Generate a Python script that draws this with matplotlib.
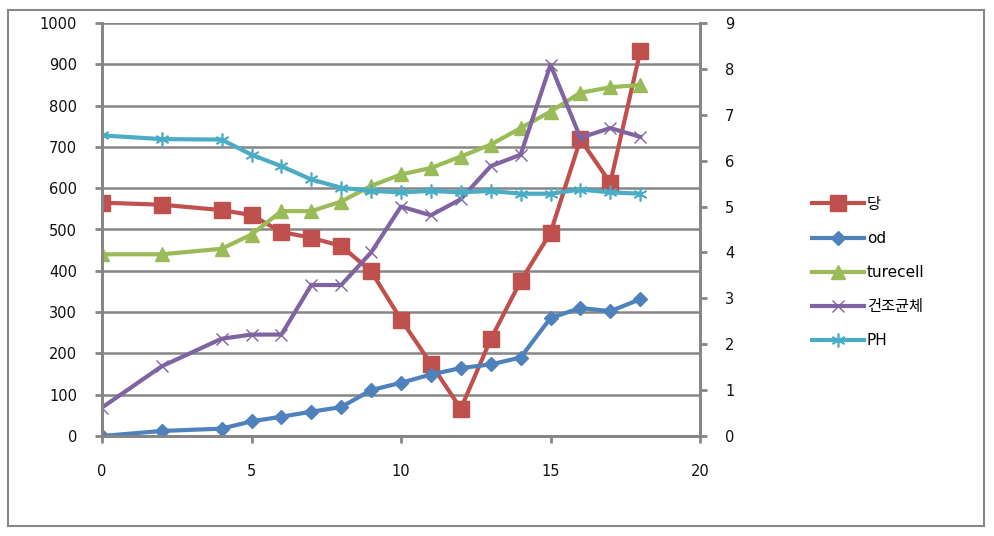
import matplotlib
matplotlib.use('Agg')
import matplotlib.pyplot as plt
from matplotlib.patches import Rectangle

plt.rcParams['font.family'] = ['DejaVu Sans', 'Noto Sans CJK KR']

# time points
x = [0, 2, 4, 5, 6, 7, 8, 9, 10, 11, 12, 13, 14, 15, 16, 17, 18]

# left axis series
sugar = [565, 560, 547, 535, 494, 480, 460, 399, 282, 175, 66, 234, 375, 492, 718, 613, 931]

# right axis series
od = [0, 0.11, 0.16, 0.32, 0.42, 0.53, 0.63, 1.0, 1.16, 1.34, 1.48, 1.56, 1.71, 2.57, 2.79, 2.72, 2.98]
turecell = [3.96, 3.96, 4.08, 4.39, 4.9, 4.9, 5.11, 5.45, 5.7, 5.84, 6.09, 6.35, 6.71, 7.07, 7.48, 7.6, 7.65]
dry_cell = [0.62, 1.52, 2.12, 2.21, 2.21, 3.29, 3.29, 4.0, 5.0, 4.81, 5.16, 5.88, 6.13, 8.09, 6.5, 6.71, 6.52]
ph = [6.55, 6.47, 6.46, 6.13, 5.88, 5.59, 5.41, 5.34, 5.31, 5.34, 5.31, 5.34, 5.28, 5.28, 5.37, 5.31, 5.28]

labels = ['당', 'od', 'turecell', '건조균체', 'PH']
colors = ['#C0504D', '#4F81BD', '#9BBB59', '#8064A2', '#4BACC6']
grey = '#868686'

fig = plt.figure(figsize=(9.94, 5.36), dpi=100)
fig.patches.append(Rectangle((8 / 994, 1 - 526 / 536), 976 / 994, 516 / 536,
                             transform=fig.transFigure, fill=False,
                             edgecolor=grey, linewidth=1.5))

ax = fig.add_axes([102 / 994, 1 - 436 / 536, 598 / 994, 413 / 536])
ax2 = ax.twinx()

ax.set_xlim(0, 20)
ax.set_ylim(0, 1000)
ax2.set_ylim(0, 9)
ax.set_xticks([0, 5, 10, 15, 20])
ax.set_yticks(range(0, 1001, 100))
ax2.set_yticks(range(0, 10))

ax.grid(axis='y', color=grey, linewidth=1.8)
ax.set_axisbelow(True)

for a in (ax, ax2):
    for s in a.spines.values():
        s.set_color(grey)
        s.set_linewidth(2)
    a.spines['top'].set_visible(False)
    a.tick_params(colors=grey, labelcolor='#111111', labelsize=10.5, width=2, length=5)

ax.tick_params(axis='y', pad=13)
ax.tick_params(axis='x', pad=15)
ax2.tick_params(axis='y', pad=13)

handles = []
h, = ax.plot(x, sugar, color=colors[0], lw=3, marker='s', ms=11, label=labels[0])
handles.append(h)
h, = ax2.plot(x, od, color=colors[1], lw=3, marker='D', ms=7, label=labels[1])
handles.append(h)
h, = ax2.plot(x, turecell, color=colors[2], lw=3, marker='^', ms=10, label=labels[2])
handles.append(h)
h, = ax2.plot(x, dry_cell, color=colors[3], lw=3, marker='x', ms=9, mew=1, label=labels[3])
handles.append(h)
h, = ax2.plot(x, ph, color=colors[4], lw=3, marker=(6, 2, 0), ms=10, mew=1.2, label=labels[4])
handles.append(h)

leg = fig.legend(handles=handles, loc='upper left', bbox_to_anchor=(798 / 994, 1 - 183 / 536),
                 frameon=False, handlelength=3.4, labelspacing=1.25,
                 handletextpad=0.2, prop={'family': ['DejaVu Sans', 'Noto Sans CJK KR'], 'size': 11})

plt.savefig('out.png', dpi=100)
